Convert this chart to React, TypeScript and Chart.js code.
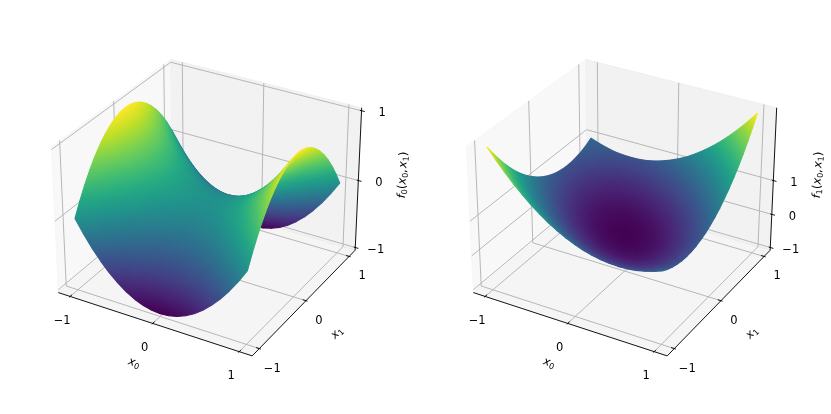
import React, { useEffect, useRef } from "react";
import { Chart, registerables } from "chart.js";

Chart.register(...registerables);

const x0Values = [-1, -0.9, -0.8, -0.7, -0.6, -0.5, -0.4, -0.3, -0.2, -0.1, 0, 0.1, 0.2, 0.3, 0.4, 0.5, 0.6, 0.7, 0.8, 0.9, 1];
const x1Values = [-1, -0.9, -0.8, -0.7, -0.6, -0.5, -0.4, -0.3, -0.2, -0.1, 0, 0.1, 0.2, 0.3, 0.4, 0.5, 0.6, 0.7, 0.8, 0.9, 1];

// rows follow x1Values, columns follow x0Values
const f0Values = [
  [0, -0.19, -0.36, -0.51, -0.64, -0.75, -0.84, -0.91, -0.96, -0.99, -1, -0.99, -0.96, -0.91, -0.84, -0.75, -0.64, -0.51, -0.36, -0.19, 0],
  [0.19, 0, -0.17, -0.32, -0.45, -0.56, -0.65, -0.72, -0.77, -0.8, -0.81, -0.8, -0.77, -0.72, -0.65, -0.56, -0.45, -0.32, -0.17, 0, 0.19],
  [0.36, 0.17, 0, -0.15, -0.28, -0.39, -0.48, -0.55, -0.6, -0.63, -0.64, -0.63, -0.6, -0.55, -0.48, -0.39, -0.28, -0.15, 0, 0.17, 0.36],
  [0.51, 0.32, 0.15, 0, -0.13, -0.24, -0.33, -0.4, -0.45, -0.48, -0.49, -0.48, -0.45, -0.4, -0.33, -0.24, -0.13, 0, 0.15, 0.32, 0.51],
  [0.64, 0.45, 0.28, 0.13, 0, -0.11, -0.2, -0.27, -0.32, -0.35, -0.36, -0.35, -0.32, -0.27, -0.2, -0.11, 0, 0.13, 0.28, 0.45, 0.64],
  [0.75, 0.56, 0.39, 0.24, 0.11, 0, -0.09, -0.16, -0.21, -0.24, -0.25, -0.24, -0.21, -0.16, -0.09, 0, 0.11, 0.24, 0.39, 0.56, 0.75],
  [0.84, 0.65, 0.48, 0.33, 0.2, 0.09, 0, -0.07, -0.12, -0.15, -0.16, -0.15, -0.12, -0.07, 0, 0.09, 0.2, 0.33, 0.48, 0.65, 0.84],
  [0.91, 0.72, 0.55, 0.4, 0.27, 0.16, 0.07, 0, -0.05, -0.08, -0.09, -0.08, -0.05, 0, 0.07, 0.16, 0.27, 0.4, 0.55, 0.72, 0.91],
  [0.96, 0.77, 0.6, 0.45, 0.32, 0.21, 0.12, 0.05, 0, -0.03, -0.04, -0.03, 0, 0.05, 0.12, 0.21, 0.32, 0.45, 0.6, 0.77, 0.96],
  [0.99, 0.8, 0.63, 0.48, 0.35, 0.24, 0.15, 0.08, 0.03, 0, -0.01, 0, 0.03, 0.08, 0.15, 0.24, 0.35, 0.48, 0.63, 0.8, 0.99],
  [1, 0.81, 0.64, 0.49, 0.36, 0.25, 0.16, 0.09, 0.04, 0.01, 0, 0.01, 0.04, 0.09, 0.16, 0.25, 0.36, 0.49, 0.64, 0.81, 1],
  [0.99, 0.8, 0.63, 0.48, 0.35, 0.24, 0.15, 0.08, 0.03, 0, -0.01, 0, 0.03, 0.08, 0.15, 0.24, 0.35, 0.48, 0.63, 0.8, 0.99],
  [0.96, 0.77, 0.6, 0.45, 0.32, 0.21, 0.12, 0.05, 0, -0.03, -0.04, -0.03, 0, 0.05, 0.12, 0.21, 0.32, 0.45, 0.6, 0.77, 0.96],
  [0.91, 0.72, 0.55, 0.4, 0.27, 0.16, 0.07, 0, -0.05, -0.08, -0.09, -0.08, -0.05, 0, 0.07, 0.16, 0.27, 0.4, 0.55, 0.72, 0.91],
  [0.84, 0.65, 0.48, 0.33, 0.2, 0.09, 0, -0.07, -0.12, -0.15, -0.16, -0.15, -0.12, -0.07, 0, 0.09, 0.2, 0.33, 0.48, 0.65, 0.84],
  [0.75, 0.56, 0.39, 0.24, 0.11, 0, -0.09, -0.16, -0.21, -0.24, -0.25, -0.24, -0.21, -0.16, -0.09, 0, 0.11, 0.24, 0.39, 0.56, 0.75],
  [0.64, 0.45, 0.28, 0.13, 0, -0.11, -0.2, -0.27, -0.32, -0.35, -0.36, -0.35, -0.32, -0.27, -0.2, -0.11, 0, 0.13, 0.28, 0.45, 0.64],
  [0.51, 0.32, 0.15, 0, -0.13, -0.24, -0.33, -0.4, -0.45, -0.48, -0.49, -0.48, -0.45, -0.4, -0.33, -0.24, -0.13, 0, 0.15, 0.32, 0.51],
  [0.36, 0.17, 0, -0.15, -0.28, -0.39, -0.48, -0.55, -0.6, -0.63, -0.64, -0.63, -0.6, -0.55, -0.48, -0.39, -0.28, -0.15, 0, 0.17, 0.36],
  [0.19, 0, -0.17, -0.32, -0.45, -0.56, -0.65, -0.72, -0.77, -0.8, -0.81, -0.8, -0.77, -0.72, -0.65, -0.56, -0.45, -0.32, -0.17, 0, 0.19],
  [0, -0.19, -0.36, -0.51, -0.64, -0.75, -0.84, -0.91, -0.96, -0.99, -1, -0.99, -0.96, -0.91, -0.84, -0.75, -0.64, -0.51, -0.36, -0.19, 0],
];

const f1Values = [
  [3, 2.71, 2.44, 2.19, 1.96, 1.75, 1.56, 1.39, 1.24, 1.11, 1, 0.91, 0.84, 0.79, 0.76, 0.75, 0.76, 0.79, 0.84, 0.91, 1],
  [2.71, 2.43, 2.17, 1.93, 1.71, 1.51, 1.33, 1.17, 1.03, 0.91, 0.81, 0.73, 0.67, 0.63, 0.61, 0.61, 0.63, 0.67, 0.73, 0.81, 0.91],
  [2.44, 2.17, 1.92, 1.69, 1.48, 1.29, 1.12, 0.97, 0.84, 0.73, 0.64, 0.57, 0.52, 0.49, 0.48, 0.49, 0.52, 0.57, 0.64, 0.73, 0.84],
  [2.19, 1.93, 1.69, 1.47, 1.27, 1.09, 0.93, 0.79, 0.67, 0.57, 0.49, 0.43, 0.39, 0.37, 0.37, 0.39, 0.43, 0.49, 0.57, 0.67, 0.79],
  [1.96, 1.71, 1.48, 1.27, 1.08, 0.91, 0.76, 0.63, 0.52, 0.43, 0.36, 0.31, 0.28, 0.27, 0.28, 0.31, 0.36, 0.43, 0.52, 0.63, 0.76],
  [1.75, 1.51, 1.29, 1.09, 0.91, 0.75, 0.61, 0.49, 0.39, 0.31, 0.25, 0.21, 0.19, 0.19, 0.21, 0.25, 0.31, 0.39, 0.49, 0.61, 0.75],
  [1.56, 1.33, 1.12, 0.93, 0.76, 0.61, 0.48, 0.37, 0.28, 0.21, 0.16, 0.13, 0.12, 0.13, 0.16, 0.21, 0.28, 0.37, 0.48, 0.61, 0.76],
  [1.39, 1.17, 0.97, 0.79, 0.63, 0.49, 0.37, 0.27, 0.19, 0.13, 0.09, 0.07, 0.07, 0.09, 0.13, 0.19, 0.27, 0.37, 0.49, 0.63, 0.79],
  [1.24, 1.03, 0.84, 0.67, 0.52, 0.39, 0.28, 0.19, 0.12, 0.07, 0.04, 0.03, 0.04, 0.07, 0.12, 0.19, 0.28, 0.39, 0.52, 0.67, 0.84],
  [1.11, 0.91, 0.73, 0.57, 0.43, 0.31, 0.21, 0.13, 0.07, 0.03, 0.01, 0.01, 0.03, 0.07, 0.13, 0.21, 0.31, 0.43, 0.57, 0.73, 0.91],
  [1, 0.81, 0.64, 0.49, 0.36, 0.25, 0.16, 0.09, 0.04, 0.01, 0, 0.01, 0.04, 0.09, 0.16, 0.25, 0.36, 0.49, 0.64, 0.81, 1],
  [0.91, 0.73, 0.57, 0.43, 0.31, 0.21, 0.13, 0.07, 0.03, 0.01, 0.01, 0.03, 0.07, 0.13, 0.21, 0.31, 0.43, 0.57, 0.73, 0.91, 1.11],
  [0.84, 0.67, 0.52, 0.39, 0.28, 0.19, 0.12, 0.07, 0.04, 0.03, 0.04, 0.07, 0.12, 0.19, 0.28, 0.39, 0.52, 0.67, 0.84, 1.03, 1.24],
  [0.79, 0.63, 0.49, 0.37, 0.27, 0.19, 0.13, 0.09, 0.07, 0.07, 0.09, 0.13, 0.19, 0.27, 0.37, 0.49, 0.63, 0.79, 0.97, 1.17, 1.39],
  [0.76, 0.61, 0.48, 0.37, 0.28, 0.21, 0.16, 0.13, 0.12, 0.13, 0.16, 0.21, 0.28, 0.37, 0.48, 0.61, 0.76, 0.93, 1.12, 1.33, 1.56],
  [0.75, 0.61, 0.49, 0.39, 0.31, 0.25, 0.21, 0.19, 0.19, 0.21, 0.25, 0.31, 0.39, 0.49, 0.61, 0.75, 0.91, 1.09, 1.29, 1.51, 1.75],
  [0.76, 0.63, 0.52, 0.43, 0.36, 0.31, 0.28, 0.27, 0.28, 0.31, 0.36, 0.43, 0.52, 0.63, 0.76, 0.91, 1.08, 1.27, 1.48, 1.71, 1.96],
  [0.79, 0.67, 0.57, 0.49, 0.43, 0.39, 0.37, 0.37, 0.39, 0.43, 0.49, 0.57, 0.67, 0.79, 0.93, 1.09, 1.27, 1.47, 1.69, 1.93, 2.19],
  [0.84, 0.73, 0.64, 0.57, 0.52, 0.49, 0.48, 0.49, 0.52, 0.57, 0.64, 0.73, 0.84, 0.97, 1.12, 1.29, 1.48, 1.69, 1.92, 2.17, 2.44],
  [0.91, 0.81, 0.73, 0.67, 0.63, 0.61, 0.61, 0.63, 0.67, 0.73, 0.81, 0.91, 1.03, 1.17, 1.33, 1.51, 1.71, 1.93, 2.17, 2.43, 2.71],
  [1, 0.91, 0.84, 0.79, 0.76, 0.75, 0.76, 0.79, 0.84, 0.91, 1, 1.11, 1.24, 1.39, 1.56, 1.75, 1.96, 2.19, 2.44, 2.71, 3],
];

const xyTicks = [-1, 0, 1];
const leftZTicks = [-1, 0, 1];
const rightZTicks = [-1, 0, 1];
const tickText = (v: number) => (v < 0 ? "\u2212" + Math.abs(v) : String(v));

const viridis = ["#440154", "#482475", "#414487", "#355f8d", "#2a788e", "#21918c", "#22a884", "#44bf70", "#7ad151", "#bddf26", "#fde725"];

function hexToRgb(h: string) {
  return [parseInt(h.slice(1, 3), 16), parseInt(h.slice(3, 5), 16), parseInt(h.slice(5, 7), 16)];
}
function cmap(t: number) {
  const c = Math.min(1, Math.max(0, t)) * (viridis.length - 1);
  const i = Math.min(viridis.length - 2, Math.floor(c));
  const f = c - i;
  const a = hexToRgb(viridis[i]);
  const b = hexToRgb(viridis[i + 1]);
  return `rgb(${a.map((v, k) => Math.round(v + (b[k] - v) * f)).join(",")})`;
}

// matplotlib's default 3D camera: elev 30, azim -60, dist 10, box aspect 4:4:3
const BOX = [1.1429, 1.1429, 0.8571];
const N = [0.433013, -0.75, 0.5];
const U = [0.866025, 0.5, 0];
const V = [-0.25, 0.433013, 0.866025];
const SCALE = 1865;
const CY = 200.5;
const XY_LIM = 1.1;

type Panel = {
  cx: number;
  zMin: number;
  zMax: number;
  zTicks: number[];
  values: number[][];
  name: string;
};

const panels: Panel[] = [
  { cx: 209.5, zMin: -1, zMax: 1, zTicks: leftZTicks, values: f0Values, name: "0" },
  { cx: 624.5, zMin: -1, zMax: 3, zTicks: rightZTicks, values: f1Values, name: "1" },
];

function project(p: Panel, x: number, y: number, z: number) {
  const w = [
    (x / (2 * XY_LIM)) * BOX[0],
    (y / (2 * XY_LIM)) * BOX[1],
    ((z - (p.zMin + p.zMax) / 2) / (p.zMax - p.zMin)) * BOX[2],
  ];
  const dot = (a: number[]) => a[0] * w[0] + a[1] * w[1] + a[2] * w[2];
  const depth = dot(N);
  const d = 10 - depth;
  return { x: p.cx + (SCALE * dot(U)) / d, y: CY - (SCALE * dot(V)) / d, depth };
}

function lineDs(points: { x: number; y: number }[], color: string, width: number) {
  return {
    data: points,
    showLine: true,
    pointRadius: 0,
    borderColor: color,
    borderWidth: width,
    tension: 0,
    fill: false,
    clip: false,
    borderCapStyle: "butt",
  };
}

function polyDs(points: { x: number; y: number }[], fill: any, edge: any, width: number) {
  return {
    data: [...points, points[0]],
    showLine: true,
    pointRadius: 0,
    backgroundColor: fill,
    borderColor: edge,
    borderWidth: width,
    borderJoinStyle: "round",
    tension: 0,
    fill: "shape",
    clip: false,
  };
}

function surfaceDatasets(ctx: CanvasRenderingContext2D, p: Panel) {
  const flat = p.values.flat();
  const lo = Math.min(...flat);
  const hi = Math.max(...flat);
  const norm = (z: number) => (z - lo) / (hi - lo);
  const quads: { depth: number; ds: any }[] = [];
  for (let j = 0; j < x1Values.length - 1; j++) {
    for (let i = 0; i < x0Values.length - 1; i++) {
      const corners = [
        [i, j],
        [i + 1, j],
        [i + 1, j + 1],
        [i, j + 1],
      ].map(([a, b]) => {
        const z = p.values[b][a];
        return { ...project(p, x0Values[a], x1Values[b], z), z };
      });
      const mx = corners.reduce((s, c) => s + c.x, 0) / 4;
      const my = corners.reduce((s, c) => s + c.y, 0) / 4;
      const mz = corners.reduce((s, c) => s + c.z, 0) / 4;
      let sxx = 0, sxy = 0, syy = 0, sxz = 0, syz = 0;
      for (const c of corners) {
        const dx = c.x - mx, dy = c.y - my, dz = c.z - mz;
        sxx += dx * dx; sxy += dx * dy; syy += dy * dy; sxz += dx * dz; syz += dy * dz;
      }
      const det = sxx * syy - sxy * sxy;
      let paint: any = cmap(norm(mz));
      if (Math.abs(det) > 1e-2) {
        const gx = (syy * sxz - sxy * syz) / det;
        const gy = (sxx * syz - sxy * sxz) / det;
        const g2 = gx * gx + gy * gy;
        if (g2 > 1e-9) {
          const zs = corners.map((c) => c.z);
          const a = Math.min(...zs);
          const b = Math.max(...zs);
          const grad = ctx.createLinearGradient(
            mx + (gx / g2) * (a - mz), my + (gy / g2) * (a - mz),
            mx + (gx / g2) * (b - mz), my + (gy / g2) * (b - mz)
          );
          grad.addColorStop(0, cmap(norm(a)));
          grad.addColorStop(0.5, cmap(norm((a + b) / 2)));
          grad.addColorStop(1, cmap(norm(b)));
          paint = grad;
        }
      }
      const depth = corners.reduce((s, c) => s + c.depth, 0) / 4;
      quads.push({ depth, ds: polyDs(corners.map((c) => ({ x: c.x, y: c.y })), paint, paint, 1.1) });
    }
  }
  quads.sort((a, b) => b.depth - a.depth);
  return quads.map((q) => q.ds);
}

function frameDatasets(p: Panel) {
  const pad = (2 * XY_LIM) / 48;
  const lo = -XY_LIM - pad;
  const hi = XY_LIM + pad;
  const zPad = (p.zMax - p.zMin) / 48;
  const zl = p.zMin - zPad;
  const zh = p.zMax + zPad;
  const P = (x: number, y: number, z: number) => {
    const q = project(p, x, y, z);
    return { x: q.x, y: q.y };
  };
  const delta = (2 * XY_LIM) / 12;
  const on: any[] = [];
  const black = "#000000";
  const grid = "#b0b0b0";
  // axis lines and ticks
  on.push(lineDs([P(lo, lo, zl), P(hi, lo, zl)], black, 0.92));
  on.push(lineDs([P(hi, lo, zl), P(hi, hi, zl)], black, 0.92));
  on.push(lineDs([P(hi, hi, zl), P(hi, hi, zh)], black, 0.92));
  for (const t of xyTicks) {
    on.push(lineDs([P(t, lo - 0.1 * delta, zl), P(t, lo + 0.2 * delta, zl)], black, 0.92));
    on.push(lineDs([P(hi + 0.1 * delta, t, zl), P(hi - 0.2 * delta, t, zl)], black, 0.92));
  }
  for (const t of p.zTicks) {
    on.push(lineDs([P(hi + 0.2 * delta, hi, t), P(hi - 0.1 * delta, hi, t)], black, 0.92));
  }
  // grid lines
  for (const t of xyTicks) {
    on.push(lineDs([P(t, lo, zl), P(t, hi, zl), P(t, hi, zh)], grid, 0.92));
    on.push(lineDs([P(hi, t, zl), P(lo, t, zl), P(lo, t, zh)], grid, 0.92));
  }
  for (const t of p.zTicks) {
    on.push(lineDs([P(lo, lo, t), P(lo, hi, t), P(hi, hi, t)], grid, 0.92));
  }
  // panes
  const xPane = "rgba(242,242,242,0.5)";
  const yPane = "rgba(230,230,230,0.5)";
  const zPane = "rgba(236,236,236,0.5)";
  on.push(polyDs([P(lo, lo, zl), P(lo, hi, zl), P(lo, hi, zh), P(lo, lo, zh)], xPane, xPane, 0.92));
  on.push(polyDs([P(lo, hi, zl), P(hi, hi, zl), P(hi, hi, zh), P(lo, hi, zh)], yPane, yPane, 0.92));
  on.push(polyDs([P(lo, lo, zl), P(hi, lo, zl), P(hi, hi, zl), P(lo, hi, zl)], zPane, zPane, 0.92));
  return on;
}

type Piece = [string, "i" | "r" | "s"];
const FONT = '"DejaVu Sans"';
const SIZE = 11.5;

function drawMath(ctx: CanvasRenderingContext2D, pieces: Piece[], x: number, y: number, angle: number) {
  const fontOf = (k: string) =>
    k === "i" ? `italic ${SIZE}px ${FONT}` : k === "s" ? `${SIZE * 0.7}px ${FONT}` : `${SIZE}px ${FONT}`;
  const widths = pieces.map(([t, k]) => {
    ctx.font = fontOf(k);
    return ctx.measureText(t).width + (t === "," ? 1 : 0);
  });
  const total = widths.reduce((a, b) => a + b, 0);
  ctx.save();
  ctx.translate(x, y);
  ctx.rotate(angle);
  ctx.textAlign = "left";
  ctx.textBaseline = "alphabetic";
  ctx.fillStyle = "#000";
  let cur = -total / 2;
  pieces.forEach(([t, k], i) => {
    ctx.font = fontOf(k);
    ctx.fillText(t, cur, 3 + (k === "s" ? 2 : 0));
    cur += widths[i];
  });
  ctx.restore();
}

const textPlugin = {
  id: "axisText",
  afterDraw(chart: any) {
    const { ctx, scales } = chart;
    const sx = (v: number) => scales.x.getPixelForValue(v);
    const sy = (v: number) => scales.y.getPixelForValue(v);
    for (const p of panels) {
      const pad = (2 * XY_LIM) / 48;
      const lo = -XY_LIM - pad;
      const hi = XY_LIM + pad;
      const zPad = (p.zMax - p.zMin) / 48;
      const zl = p.zMin - zPad;
      const zh = p.zMax + zPad;
      ctx.save();
      ctx.font = `${SIZE}px ${FONT}`;
      ctx.fillStyle = "#000";
      ctx.textAlign = "center";
      ctx.textBaseline = "middle";
      for (const t of xyTicks) {
        const a = project(p, t, lo, zl);
        ctx.fillText(tickText(t), sx(a.x) - 8, sy(a.y) + 24.5);
        const b = project(p, hi, t, zl);
        ctx.fillText(tickText(t), sx(b.x) + 13, sy(b.y) + 20);
      }
      for (const t of p.zTicks) {
        const c = project(p, hi, hi, t);
        ctx.fillText(tickText(t), sx(c.x) + 20.5, sy(c.y) + 2.5);
      }
      ctx.restore();
      const angleOf = (a: any, b: any) => Math.atan2(sy(b.y) - sy(a.y), sx(b.x) - sx(a.x));
      const xA = project(p, lo, lo, zl), xB = project(p, hi, lo, zl);
      const yA = project(p, hi, lo, zl), yB = project(p, hi, hi, zl);
      const zA = project(p, hi, hi, zl), zB = project(p, hi, hi, zh);
      drawMath(ctx, [["x", "i"], ["0", "s"]], sx(p.cx - 75.5), sy(363), angleOf(xA, xB));
      drawMath(ctx, [["x", "i"], ["1", "s"]], sx(p.cx + 127.5), sy(333), angleOf(yA, yB));
      drawMath(
        ctx,
        [["f", "i"], [p.name, "s"], ["(", "r"], ["x", "i"], ["0", "s"], [",", "r"], ["x", "i"], ["1", "s"], [")", "r"]],
        sx(p.cx + 193.5),
        sy(175),
        angleOf(zA, zB)
      );
    }
  },
};

export default function App() {
  const ref = useRef<HTMLCanvasElement | null>(null);
  useEffect(() => {
    const canvas = ref.current!;
    const ctx = canvas.getContext("2d")!;
    const datasets: any[] = [];
    for (const p of panels) {
      datasets.push(...surfaceDatasets(ctx, p));
      datasets.push(...frameDatasets(p));
    }
    const chart = new Chart(canvas, {
      type: "scatter",
      data: { datasets },
      plugins: [textPlugin],
      options: {
        animation: false,
        responsive: false,
        devicePixelRatio: 1,
        events: [],
        layout: { padding: 0 },
        plugins: { legend: { display: false }, tooltip: { enabled: false }, title: { display: false } },
        scales: {
          x: { type: "linear", min: 0, max: 831, display: false },
          y: { type: "linear", min: 0, max: 414, reverse: true, display: false },
        },
      },
    } as any);
    return () => chart.destroy();
  }, []);
  return (
    <canvas
      ref={ref}
      width={831}
      height={414}
      style={{ position: "absolute", left: 0, top: 0, display: "block", width: 831, height: 414 }}
    />
  );
}
